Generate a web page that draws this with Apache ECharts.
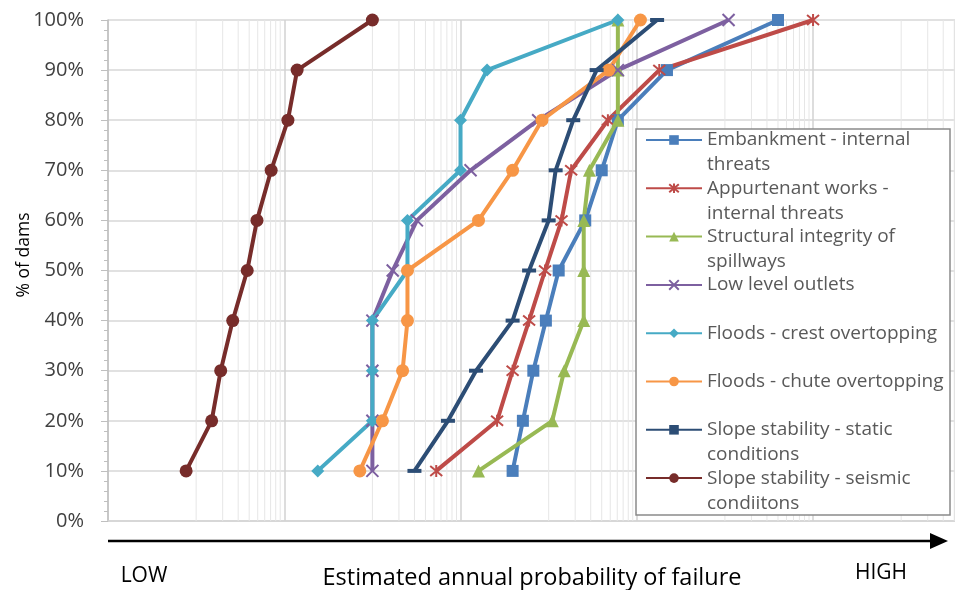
<!DOCTYPE html>
<html>
<head>
<meta charset="utf-8">
<script src="https://cdn.jsdelivr.net/npm/echarts@6/dist/echarts.min.js"></script>
<style>
  html, body { margin: 0; padding: 0; background: #ffffff; }
  #chart { width: 955px; height: 590px; }
</style>
</head>
<body>
<div id="chart"></div>
<script>
// Cumulative share of dams (%) for each estimated annual probability of failure
const percentOfDams = [10, 20, 30, 40, 50, 60, 70, 80, 90, 100];

const embankment       = [3.9e-6, 5.1e-6, 6.7e-6, 9.3e-6, 1.3e-5, 2.6e-5, 4.0e-5, 6.1e-5, 2.2e-4, 4.0e-3];
const appurtenant      = [5.3e-7, 2.6e-6, 3.9e-6, 6.0e-6, 9.1e-6, 1.4e-5, 1.8e-5, 4.7e-5, 1.8e-4, 1.0e-2];
const spillways        = [1.6e-6, 1.1e-5, 1.5e-5, 2.5e-5, 2.5e-5, 2.5e-5, 2.9e-5, 6.1e-5, 6.1e-5, 6.1e-5];
const lowLevelOutlets  = [1.0e-7, 1.0e-7, 1.0e-7, 1.0e-7, 1.7e-7, 3.2e-7, 1.3e-6, 7.6e-6, 6.1e-5, 1.1e-3];
const crestOvertopping = [2.4e-8, 1.0e-7, 1.0e-7, 1.0e-7, 2.5e-7, 2.5e-7, 1.0e-6, 1.0e-6, 2.0e-6, 6.1e-5];
const chuteOvertopping = [7.2e-8, 1.3e-7, 2.2e-7, 2.5e-7, 2.5e-7, 1.6e-6, 3.9e-6, 8.4e-6, 4.8e-5, 1.1e-4];
const slopeStatic      = [3.0e-7, 7.2e-7, 1.5e-6, 3.9e-6, 6.0e-6, 1.0e-5, 1.2e-5, 1.9e-5, 3.5e-5, 1.7e-4];
const slopeSeismic     = [7.7e-10, 1.5e-9, 1.9e-9, 2.6e-9, 3.8e-9, 4.9e-9, 7.1e-9, 1.1e-8, 1.4e-8, 1.0e-7];

// Legend labels: first line is the series name, second line wraps underneath
const legendFirstLines  = ['Embankment - internal', 'Appurtenant works -', 'Structural integrity of',
  'Low level outlets', 'Floods - crest overtopping', 'Floods - chute overtopping',
  'Slope stability - static', 'Slope stability - seismic'];
const legendSecondLines = ['threats', 'internal threats', 'spillways', '', '', '', 'conditions', 'condiitons'];

// Probability axis range (base-100 majors starting at 1e-10)
const xMin = 1e-10;
const xMax = 0.408;

// Minor grid: multiples 1..9 of the odd powers of ten between the base-100 majors
const minorMultiples = [1, 2, 3, 4, 5, 6, 7, 8, 9];
const minorDecades = [1e-9, 1e-7, 1e-5, 1e-3, 1e-1];

const FONT = '"Open Sans", sans-serif';

const seriesValues = [embankment, appurtenant, spillways, lowLevelOutlets,
  crestOvertopping, chuteOvertopping, slopeStatic, slopeSeismic];
const seriesColors = ['#4a7ebb', '#be4b48', '#98b954', '#7d60a0', '#46aac5', '#f79646', '#2c4d75', '#772c2a'];
const seriesSymbols = [
  'rect',
  'path://M0,0L10,10M10,0L0,10M5,-1L5,11',
  'triangle',
  'path://M0,0L10,10M10,0L0,10',
  'diamond',
  'circle',
  'path://M0,0H12V4H0Z',
  'circle'
];
const seriesSymbolSizes = [12, 12, 13, 12, 13, 13, [14, 4], 13];
const strokedSymbol = [false, true, false, true, false, false, false, false];

// Vertical minor grid segments, separated by gaps
const minorGrid = [];
minorDecades.forEach(d => minorMultiples.forEach(m => {
  const v = d * m;
  if (v < xMax) {
    minorGrid.push([v, 0], [v, 100], ['-', '-']);
  }
}));

const series = seriesValues.map((vals, i) => ({
  name: legendFirstLines[i],
  type: 'line',
  z: 3,
  data: vals.map((v, k) => [v, percentOfDams[k]]),
  symbol: seriesSymbols[i],
  symbolSize: seriesSymbolSizes[i],
  showAllSymbol: true,
  lineStyle: { color: seriesColors[i], width: 4 },
  itemStyle: strokedSymbol[i]
    ? { color: seriesColors[i], borderColor: seriesColors[i], borderWidth: 2 }
    : { color: seriesColors[i], borderWidth: 0 },
  emphasis: { disabled: true }
}));

series.unshift({
  name: 'minor-grid',
  type: 'line',
  z: 1,
  silent: true,
  symbol: 'none',
  connectNulls: false,
  data: minorGrid,
  lineStyle: { color: '#e6e6e6', width: 1 },
  emphasis: { disabled: true }
});

const legendRowTop = 140;
const legendRowStep = 48.3;
const legendLineHeight = 25;
const graphics = [
  {
    type: 'rect', z: 9,
    shape: { x: 636, y: 129, width: 314, height: 386 },
    style: { fill: '#ffffff', stroke: '#8a8a8a', lineWidth: 1.5 }
  },
  {
    type: 'line', z: 5,
    shape: { x1: 108, y1: 541, x2: 934, y2: 541 },
    style: { stroke: '#000000', lineWidth: 2.5 }
  },
  {
    type: 'polygon', z: 5,
    shape: { points: [[930, 533], [948, 541], [930, 549]] },
    style: { fill: '#000000' }
  },
  {
    type: 'text', z: 5, x: 144, y: 576,
    style: { text: 'LOW', font: '21px ' + FONT, fill: '#000000', align: 'center', verticalAlign: 'middle' }
  },
  {
    type: 'text', z: 5, x: 881, y: 573,
    style: { text: 'HIGH', font: '21px ' + FONT, fill: '#000000', align: 'center', verticalAlign: 'middle' }
  },
  {
    type: 'text', z: 5, x: 532, y: 578,
    style: { text: 'Estimated annual probability of failure', font: '23.5px ' + FONT, fill: '#000000', align: 'center', verticalAlign: 'middle' }
  },
  {
    type: 'text', z: 5, x: 24, y: 255, rotation: Math.PI / 2,
    style: { text: '% of dams', font: '17.5px ' + FONT, fill: '#000000', align: 'center', verticalAlign: 'middle' }
  }
];
legendSecondLines.forEach((t, i) => {
  if (!t) return;
  graphics.push({
    type: 'text', z: 11, x: 707, y: legendRowTop + i * legendRowStep + legendLineHeight,
    style: { text: t, font: '19px ' + FONT, fill: '#595959', verticalAlign: 'middle' }
  });
});

const legendItemHeight = 12;
const chart = echarts.init(document.getElementById('chart'), null, { renderer: 'canvas' });
chart.setOption({
  animation: false,
  backgroundColor: '#ffffff',
  grid: { left: 108, top: 20, width: 847, height: 501, containLabel: false },
  xAxis: {
    type: 'log',
    logBase: 100,
    min: xMin,
    max: xMax,
    splitNumber: 5,
    axisLabel: { show: false },
    axisTick: { show: false },
    axisLine: { show: true, lineStyle: { color: '#d4d4d4', width: 1.5 } },
    splitLine: { show: true, lineStyle: { color: '#d2d2d2', width: 1.5 } }
  },
  yAxis: {
    type: 'value',
    min: 0,
    max: 100,
    interval: 10,
    axisLine: { show: true, lineStyle: { color: '#bfbfbf', width: 1.5 } },
    axisTick: { show: true, length: 7, lineStyle: { color: '#bfbfbf', width: 1 } },
    minorTick: { show: true, splitNumber: 5, length: 4, lineStyle: { color: '#bfbfbf', width: 1 } },
    axisLabel: { formatter: '{value}%', fontSize: 20, fontFamily: FONT, color: '#404040', margin: 24 },
    splitLine: { show: true, lineStyle: { color: '#d7d7d7', width: 1.5 } }
  },
  legend: {
    data: legendFirstLines,
    orient: 'vertical',
    left: 645,
    top: legendRowTop - legendLineHeight / 2,
    padding: 0,
    z: 10,
    selectedMode: false,
    itemWidth: 56,
    itemHeight: legendItemHeight,
    itemGap: legendRowStep - legendLineHeight,
    textStyle: { fontSize: 19, fontFamily: FONT, color: '#595959', lineHeight: legendLineHeight }
  },
  graphic: graphics,
  series: series
});
</script>
</body>
</html>
